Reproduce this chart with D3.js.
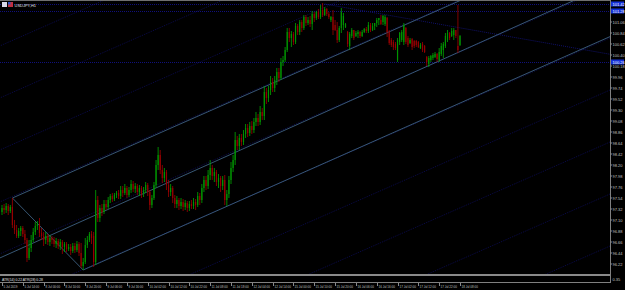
<!DOCTYPE html>
<html><head><meta charset="utf-8">
<script src="https://cdn.jsdelivr.net/npm/d3@7"></script>
<style>html,body{margin:0;padding:0;background:#000;overflow:hidden}</style>
</head><body>
<svg id="c" width="625" height="290"></svg>
<script>
const symbolTitle = "USDJPY,H1";
const indicatorLabel = "ATR(14) 0.22  ATR(28) 0.28";
const indicatorScaleLabel = "0.35";

// [open, high, low, close] per H1 bar
const candles = [
[97.26,97.40,97.20,97.34],[97.34,97.42,97.22,97.30],[97.30,97.44,97.24,97.38],[97.38,97.42,97.20,97.28],[97.28,97.40,97.24,97.36],
[97.36,97.54,96.94,97.00],[97.00,97.10,96.82,96.90],[96.90,97.00,96.74,96.78],[96.78,96.94,96.74,96.88],[96.88,96.98,96.78,96.94],
[96.94,96.98,96.76,96.82],[96.82,96.90,96.62,96.70],[96.70,96.74,96.26,96.34],[96.34,96.70,96.30,96.54],[96.54,96.80,96.46,96.70],
[96.70,96.94,96.66,96.86],[96.86,97.06,96.80,96.98],[96.98,97.08,96.90,97.02],[97.02,97.14,96.76,96.84],[96.84,96.94,96.70,96.78],
[96.78,96.86,96.58,96.70],[96.70,96.86,96.62,96.78],[96.78,96.82,96.60,96.66],[96.66,96.80,96.58,96.74],[96.74,96.78,96.62,96.70],
[96.70,96.76,96.56,96.62],[96.62,96.74,96.54,96.68],[96.68,96.72,96.52,96.58],[96.58,96.72,96.50,96.66],[96.66,96.70,96.42,96.56],
[96.56,96.66,96.46,96.62],[96.62,96.66,96.46,96.52],[96.52,96.62,96.48,96.56],[96.56,96.62,96.40,96.48],[96.48,96.64,96.44,96.58],
[96.58,96.64,96.44,96.50],[96.50,96.68,96.46,96.62],[96.62,96.66,96.38,96.44],[96.44,96.64,96.14,96.18],[96.18,96.34,96.10,96.26],
[96.26,96.74,96.22,96.60],[96.60,96.78,96.54,96.70],[96.70,96.86,96.66,96.82],[96.82,96.88,96.62,96.74],[96.78,96.86,96.16,96.26],
[96.26,97.70,96.20,97.50],[97.50,97.58,97.06,97.14],[97.14,97.40,97.06,97.34],[97.34,97.42,97.18,97.26],[97.26,97.50,97.22,97.42],
[97.42,97.50,97.30,97.36],[97.36,97.56,97.32,97.50],[97.50,97.62,97.44,97.58],[97.58,97.64,97.46,97.52],[97.52,97.64,97.48,97.60],
[97.60,97.68,97.54,97.64],[97.64,97.70,97.52,97.58],[97.58,97.78,97.52,97.70],[97.70,97.78,97.56,97.64],[97.64,97.82,97.60,97.74],
[97.74,97.78,97.54,97.60],[97.60,97.76,97.56,97.70],[97.70,97.90,97.64,97.82],[97.82,97.88,97.66,97.72],[97.72,97.84,97.64,97.78],
[97.78,97.82,97.60,97.66],[97.66,97.80,97.58,97.74],[97.74,97.78,97.54,97.62],[97.62,97.76,97.56,97.70],[97.70,97.86,97.64,97.80],
[97.80,97.84,97.58,97.66],[97.66,97.70,97.30,97.40],[97.40,97.60,97.34,97.54],[97.54,97.86,97.50,97.80],[97.80,98.30,97.74,98.20],
[98.20,98.56,98.10,98.40],[98.40,98.50,98.02,98.10],[98.10,98.20,97.84,97.94],[97.94,98.14,97.86,98.06],[98.06,98.10,97.70,97.80],
[97.80,97.90,97.56,97.66],[97.66,97.82,97.58,97.74],[97.74,97.78,97.44,97.54],[97.54,97.60,97.34,97.42],[97.42,97.58,97.34,97.50],
[97.50,97.54,97.30,97.38],[97.38,97.54,97.32,97.46],[97.46,97.52,97.28,97.36],[97.36,97.50,97.30,97.44],[97.44,97.48,97.26,97.34],
[97.34,97.48,97.28,97.42],[97.42,97.50,97.32,97.38],[97.38,97.54,97.32,97.46],[97.46,97.52,97.30,97.40],[97.40,97.66,97.36,97.58],
[97.58,97.64,97.40,97.50],[97.50,97.82,97.44,97.74],[97.74,97.98,97.66,97.90],[97.90,97.98,97.70,97.78],[97.78,98.10,97.72,98.00],
[98.00,98.30,97.90,98.14],[98.14,98.20,97.90,97.98],[97.98,98.14,97.86,98.06],[98.06,98.10,97.78,97.86],[97.86,98.02,97.74,97.94],
[97.94,97.98,97.66,97.78],[97.78,97.98,97.70,97.90],[97.90,98.00,97.40,97.50],[97.50,97.70,97.38,97.62],[97.62,97.98,97.54,97.90],
[97.90,98.26,97.82,98.14],[98.14,98.40,98.06,98.30],[98.30,98.86,98.20,98.70],[98.70,98.78,98.50,98.58],[98.58,98.82,98.50,98.74],
[98.74,98.82,98.58,98.66],[98.66,98.90,98.60,98.82],[98.82,99.02,98.74,98.94],[98.94,99.02,98.76,98.84],[98.84,99.06,98.78,98.98],
[98.98,99.08,98.82,98.90],[98.90,99.14,98.84,99.06],[99.06,99.26,98.98,99.14],[99.14,99.22,98.98,99.06],[99.06,99.38,99.00,99.26],
[99.26,99.34,99.10,99.18],[99.18,99.78,99.10,99.66],[99.66,99.74,99.42,99.54],[99.54,99.78,99.46,99.70],[99.70,99.98,99.60,99.86],
[99.86,99.94,99.66,99.74],[99.74,99.98,99.66,99.90],[99.90,100.14,99.80,100.06],[100.06,100.14,99.86,99.94],[99.94,100.34,99.90,100.26],
[100.26,100.38,100.18,100.30],[100.30,100.56,100.26,100.50],[100.50,100.94,100.46,100.86],[100.86,100.94,100.66,100.74],[100.74,100.88,100.56,100.82],
[100.82,100.86,100.60,100.66],[100.66,101.04,100.62,100.98],[100.98,101.02,100.80,100.86],[100.86,101.10,100.80,101.06],[101.06,101.10,100.86,100.94],
[100.94,101.20,100.90,101.16],[101.16,101.20,100.98,101.04],[101.04,101.16,101.00,101.10],[101.10,101.18,100.96,101.02],[101.02,101.28,100.90,101.22],
[101.22,101.26,101.06,101.14],[101.14,101.28,101.10,101.26],[101.26,101.32,101.12,101.16],[101.16,101.40,101.12,101.30],[101.30,101.44,101.16,101.20],
[101.20,101.36,101.18,101.32],[101.32,101.34,101.18,101.22],[101.22,101.26,101.12,101.16],[101.10,101.18,101.06,101.16],[101.16,101.30,100.80,100.90],
[101.00,101.10,100.88,100.90],[100.90,101.06,100.64,100.70],[100.70,100.98,100.66,100.94],[100.94,101.34,100.84,101.26],[101.00,101.24,100.90,101.18],
[100.96,101.04,100.94,101.02],[100.86,100.88,100.56,100.62],[100.58,100.86,100.50,100.82],[100.78,100.94,100.74,100.90],[100.90,100.90,100.70,100.74],
[100.78,100.88,100.76,100.84],[100.82,100.90,100.74,100.86],[100.86,100.88,100.74,100.78],[100.78,100.90,100.76,100.86],[100.86,100.94,100.84,100.92],
[100.92,100.96,100.84,100.88],[100.88,101.06,100.84,101.00],[101.00,101.04,100.86,100.90],[100.90,101.04,100.88,100.98],[100.98,101.04,100.90,101.04],
[101.04,101.14,100.96,101.10],[101.10,101.14,101.00,101.14],[101.10,101.20,101.00,101.02],[101.06,101.20,101.00,101.18],[101.02,101.20,100.98,101.16],
[101.14,101.16,100.76,100.86],[100.86,100.90,100.60,100.64],[100.70,100.74,100.56,100.60],[100.66,100.70,100.50,100.56],[100.62,100.66,100.50,100.54],
[100.30,100.74,100.26,100.70],[100.66,100.86,100.60,100.84],[100.70,100.90,100.66,100.86],[100.66,101.04,100.60,101.00],[100.94,100.96,100.62,100.66],
[100.74,100.78,100.56,100.60],[100.64,100.74,100.62,100.70],[100.72,100.74,100.50,100.56],[100.68,100.70,100.54,100.58],[100.68,100.70,100.56,100.60],
[100.66,100.68,100.54,100.56],[100.54,100.64,100.52,100.60],[100.62,100.66,100.46,100.50],[100.58,100.60,100.44,100.46],[100.36,100.38,100.18,100.26],
[100.22,100.38,100.16,100.34],[100.30,100.40,100.26,100.38],[100.34,100.44,100.30,100.40],[100.36,100.46,100.34,100.42],[100.42,100.44,100.26,100.32],
[100.30,100.54,100.26,100.46],[100.42,100.64,100.38,100.58],[100.50,100.66,100.34,100.62],[100.58,100.84,100.54,100.78],[100.70,100.90,100.66,100.84],
[100.84,100.86,100.70,100.74],[100.78,100.94,100.76,100.88],[100.80,100.94,100.70,100.90],[100.90,100.90,100.74,100.78],[100.58,101.40,100.44,100.50],
[100.60,100.80,100.58,100.78]
];

const priceTicks = [101.06,100.84,100.62,100.40,100.18,99.96,99.74,99.52,99.30,99.08,98.86,98.64,98.42,98.20,97.98,97.76,97.54,97.32,97.10,96.88,96.66,96.44,96.22];
const markedLevels = [101.42, 101.28, 100.26];
const timeTickBars = [0,10,20,30,40,50,60,70,80,90,100,110,120,130,140,150,160,170,180,190,200,210,220];
const timeTickLabels = ["5 Jul 2019","5 Jul 14:00","8 Jul 00:00","8 Jul 10:00","8 Jul 20:00","9 Jul 06:00","9 Jul 16:00","10 Jul 02:00","10 Jul 12:00","10 Jul 22:00","11 Jul 08:00","11 Jul 18:00","12 Jul 04:00","12 Jul 14:00","15 Jul 00:00","15 Jul 10:00","15 Jul 20:00","16 Jul 06:00","16 Jul 16:00","17 Jul 02:00","17 Jul 12:00","17 Jul 22:00","18 Jul 08:00"];

// trend lines: anchor points [bar, price]
const channelRays = [
  {a:[5,97.54], b:[133.5,99.90], both:false},
  {a:[0,96.36], b:[205.6,100.20], both:true},
  {a:[39,96.10], b:[245,99.90], both:false}
];
const channelSegment = {a:[5,97.54], b:[39,96.10]};
// Gann-style grid lines: price at bar 0 and at bar 268
const gridStart = [100.60,99.56,98.52,97.48,96.44,95.40,94.36,93.32,92.28,91.24];
const gridEnd   = [105.50,104.46,103.42,102.38,101.34,100.30,99.26,98.22,97.18,96.14];
const gridBars = [0,268];
const fallingRay = {a:[155,101.42], b:[260,100.65]};

const W = 625, H = 290, plotR = 610, plotB = 274;
const svg = d3.select("#c");
svg.append("rect").attr("width",W).attr("height",H).attr("fill","#000");

const x = d3.scaleLinear().domain([0,220]).range([2,460]);
const y = d3.scaleLinear().domain([101.5,96.02]).range([0,plotB]);

svg.append("clipPath").attr("id","clip").append("rect").attr("x",0).attr("y",0).attr("width",plotR).attr("height",plotB);
const g = svg.append("g").attr("clip-path","url(#clip)");

function extend(p1,p2,both){
  const x1=x(p1[0]),y1=y(p1[1]),x2=x(p2[0]),y2=y(p2[1]);
  const dx=x2-x1, dy=y2-y1, k=20;
  return both ? [x1-dx*k,y1-dy*k,x1+dx*k,y1+dy*k] : [x1,y1,x1+dx*k,y1+dy*k];
}

// grid dotted lines
gridStart.forEach((s,i)=>{
  const e = extend([gridBars[0],s],[gridBars[1],gridEnd[i]],true);
  g.append("line").attr("x1",e[0]).attr("y1",e[1]).attr("x2",e[2]).attr("y2",e[3])
   .attr("stroke","#0a0a4a").attr("stroke-width",1).attr("stroke-dasharray","1,1");
});
// horizontal levels
markedLevels.forEach(p=>{
  g.append("line").attr("x1",0).attr("x2",plotR).attr("y1",Math.round(y(p))+0.5).attr("y2",Math.round(y(p))+0.5)
   .attr("stroke","#10107a").attr("stroke-width",1).attr("stroke-dasharray","1,1");
});
{
  const e = extend(fallingRay.a,fallingRay.b,false);
  g.append("line").attr("x1",e[0]).attr("y1",e[1]).attr("x2",e[2]).attr("y2",e[3])
   .attr("stroke","#10106a").attr("stroke-width",1).attr("stroke-dasharray","1,1");
}
// channel lines
channelRays.forEach(r=>{
  const e = extend(r.a,r.b,r.both);
  g.append("line").attr("x1",e[0]).attr("y1",e[1]).attr("x2",e[2]).attr("y2",e[3])
   .attr("stroke","#3d6080").attr("stroke-width",0.9);
});
g.append("line").attr("x1",x(channelSegment.a[0])).attr("y1",y(channelSegment.a[1]))
 .attr("x2",x(channelSegment.b[0])).attr("y2",y(channelSegment.b[1]))
 .attr("stroke","#3d6080").attr("stroke-width",0.9);

// candles
const cg = g.append("g");
candles.forEach((d,i)=>{
  const [o,h,l,c]=d; const up = c>=o;
  const cx = x(i);
  cg.append("line").attr("x1",cx).attr("x2",cx).attr("y1",y(h)).attr("y2",y(l))
    .attr("stroke", up?"#00a800":"#a00000").attr("stroke-width",0.8);
  const top = y(Math.max(o,c)), bot = y(Math.min(o,c));
  cg.append("rect").attr("x",cx-0.6).attr("width",1.2).attr("y",top).attr("height",Math.max(0.8,bot-top))
    .attr("fill", up?"#009400":"#960000");
});

// frame
svg.append("line").attr("x1",0).attr("x2",plotR).attr("y1",0.5).attr("y2",0.5).attr("stroke","#707070");
svg.append("line").attr("x1",plotR+0.5).attr("x2",plotR+0.5).attr("y1",0).attr("y2",283).attr("stroke","#808080");
svg.append("rect").attr("x",0).attr("y",plotB).attr("width",plotR).attr("height",2).attr("fill","#8a8a8a");
svg.append("line").attr("x1",0).attr("x2",plotR).attr("y1",282.5).attr("y2",282.5).attr("stroke","#808080");

const font = "'Liberation Sans', Arial, sans-serif";
// price axis
priceTicks.forEach(p=>{
  const yy = y(p);
  svg.append("line").attr("x1",plotR).attr("x2",plotR+2).attr("y1",yy).attr("y2",yy).attr("stroke","#888");
  svg.append("text").attr("x",plotR+2.5).attr("y",yy+1.5).text(p.toFixed(2))
    .attr("font-family",font).attr("font-size",4).attr("fill","#c0c0c0");
});
markedLevels.forEach(p=>{
  const yy = y(p);
  svg.append("rect").attr("x",plotR+1).attr("y",yy-2.5).attr("width",13).attr("height",5).attr("fill","#1430d8");
  svg.append("text").attr("x",plotR+2.5).attr("y",yy+1.5).text(p.toFixed(2))
    .attr("font-family",font).attr("font-size",4).attr("fill","#fff");
});
// indicator window
svg.append("text").attr("x",2).attr("y",280.6).text(indicatorLabel)
  .attr("font-family",font).attr("font-size",3.4).attr("fill","#e0e0e0");
svg.append("text").attr("x",plotR+2.5).attr("y",281).text(indicatorScaleLabel)
  .attr("font-family",font).attr("font-size",4).attr("fill","#c0c0c0");

// time axis
timeTickBars.forEach((b,i)=>{
  const xx = Math.round(x(b))+0.5;
  svg.append("line").attr("x1",xx).attr("x2",xx).attr("y1",283).attr("y2",286).attr("stroke","#888");
  svg.append("text").attr("x",xx+1).attr("y",287.5).text(timeTickLabels[i])
    .attr("font-family",font).attr("font-size",3).attr("fill","#c0c0c0");
});

// title
svg.append("rect").attr("x",2).attr("y",2).attr("width",5).attr("height",5).attr("fill","#d8d8e8");
svg.append("rect").attr("x",8).attr("y",2).attr("width",5).attr("height",5).attr("fill","#c03040");
svg.append("rect").attr("x",8).attr("y",2).attr("width",2.5).attr("height",2.5).attr("fill","#3050c0");
svg.append("text").attr("x",14.5).attr("y",6.6).text(symbolTitle)
  .attr("font-family",font).attr("font-size",4).attr("fill","#e0e0e0");
</script>
</body></html>
